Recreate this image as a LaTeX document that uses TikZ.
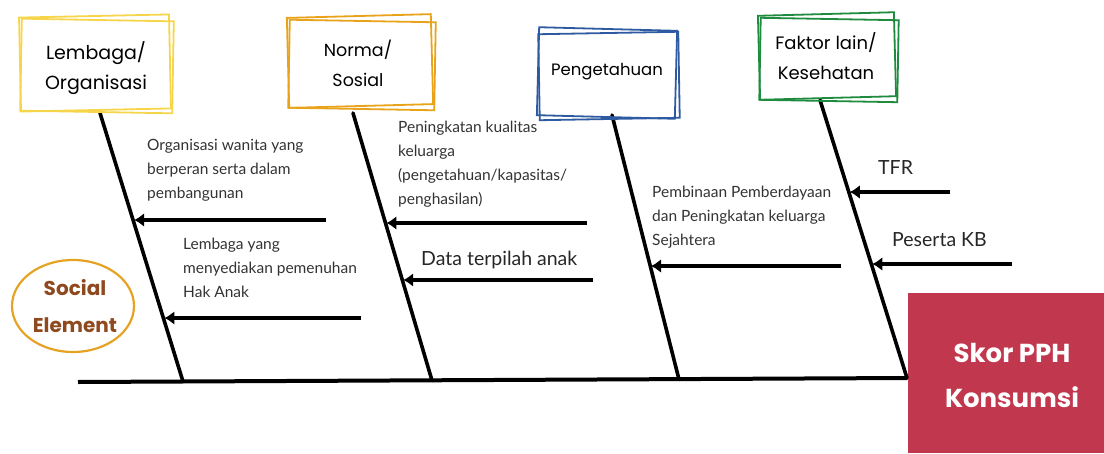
\documentclass[tikz,border=0pt]{standalone}
\usepackage{fontspec}
\setmainfont{Lato}
\newfontfamily\hdrfont{Poppins}
\usetikzlibrary{arrows.meta,calc,shapes.geometric}

\definecolor{yel}{HTML}{F7D54A}
\definecolor{orn}{HTML}{E8A31A}
\definecolor{blu}{HTML}{2D5AA0}
\definecolor{grn}{HTML}{1F8B3E}
\definecolor{ring}{HTML}{E6A222}
\definecolor{brown}{HTML}{8E4A1E}
\definecolor{scorered}{HTML}{C1374D}

\tikzset{
  bone/.style={line width=3.6pt, line cap=round},
  arr/.style={line width=3.4pt, -{Latex[length=10pt,width=14pt]}, shorten >=1pt},
  frame/.style={draw=#1, line width=1.8pt, inner sep=0pt},
  hdr/.style={font=\hdrfont\fontsize{#1}{30}\selectfont, align=center, inner sep=0pt},
  cause/.style={font=\fontsize{15.5}{24}\selectfont, align=left, anchor=north west, inner sep=0pt, text=black!80},
  bigcause/.style={font=\fontsize{19.5}{22}\selectfont, anchor=west, inner sep=0pt, text=black!85},
}

\begin{document}
\begin{tikzpicture}[x=1pt, y=-1pt]
\useasboundingbox (0,0) rectangle (1104,453);

% head of the fish
\node[fill=scorered, minimum width=196pt, minimum height=160pt, anchor=north west, inner sep=0pt] (head) at (908,293) {};
\node[font=\hdrfont\bfseries\fontsize{26}{45}\selectfont, text=white, align=center] (headtxt) at (1012,375) {Skor PPH\\ Konsumsi};

% spine and bones
\coordinate (s0) at (78,382);
\coordinate (t1) at (100,113); \coordinate (b1) at (183,381.5);
\coordinate (t2) at (353,113); \coordinate (b2) at (432,380.5);
\coordinate (t3) at (612,115); \coordinate (b3) at (679,379.5);
\coordinate (t4) at (820,100); \coordinate (b4) at (907,378);
\draw[line width=4pt] (s0) -- (b4);
\foreach \i in {1,...,4} \draw[bone] (t\i) -- (b\i);

% category boxes
\node[frame=yel, minimum width=150pt, minimum height=94pt, rotate=1.2] (lemA) at (95,63) {};
\node[frame=yel, minimum width=152pt, minimum height=92pt, rotate=-1] (lemB) at (97,66) {};
\node[hdr=19] (lem) at (96,68) {Lembaga/\\Organisasi};

\node[frame=orn, minimum width=144pt, minimum height=90pt, rotate=1.5] (norA) at (360,61) {};
\node[frame=orn, minimum width=146pt, minimum height=88pt, rotate=-1] (norB) at (362,65) {};
\node[hdr=17.5] (nor) at (358,63) {Norma/\\Sosial};

\node[frame=blu, minimum width=138pt, minimum height=88pt, rotate=-1.5] (penA) at (607,73) {};
\node[frame=blu, minimum width=140pt, minimum height=86pt, rotate=1] (penB) at (609,76) {};
\node[hdr=16.5] (pen) at (607,72) {Pengetahuan};

\node[frame=grn, minimum width=136pt, minimum height=84pt, rotate=1.5] (fakA) at (827,56) {};
\node[frame=grn, minimum width=138pt, minimum height=82pt, rotate=-1] (fakB) at (829,60) {};
\node[hdr=18] (fak) at (826,56) {Faktor lain/\\Kesehatan};

% social element badge
\node[draw=ring, line width=2.2pt, ellipse, minimum width=122pt, minimum height=92pt, inner sep=0pt] (soc) at (73,306) {};
\node[font=\hdrfont\bfseries\fontsize{20}{37}\selectfont, text=brown, align=center] (soctxt) at (75,306) {Social\\Element};

% causes and their arrows
\coordinate (a1) at (326,220);
\coordinate (a2) at (361,318);
\coordinate (a3) at (587,223);
\coordinate (a4) at (593,280);
\coordinate (a5) at (841,266);
\coordinate (a6) at (950,192);
\coordinate (a7) at (1012,264);
\coordinate (p1) at ($(t1)!0.3993!(b1)$);
\coordinate (p2) at ($(t1)!0.7649!(b1)$);
\coordinate (p3) at ($(t2)!0.4104!(b2)$);
\coordinate (p4) at ($(t2)!0.6231!(b2)$);
\coordinate (p5) at ($(t3)!0.5677!(b3)$);
\coordinate (p6) at ($(t4)!0.3309!(b4)$);
\coordinate (p7) at ($(t4)!0.5899!(b4)$);
\foreach \i in {1,...,7} \draw[arr] (a\i) -- (a\i -| p\i);

\node[cause] (c1) at (147,139) {Organisasi wanita yang\\berperan serta dalam\\pembangunan};
\node[cause] (c2) at (183,238) {Lembaga yang\\menyediakan pemenuhan\\Hak Anak};
\node[cause] (c3) at (398,121) {Peningkatan kualitas\\keluarga\\(pengetahuan/kapasitas/\\penghasilan)};
\node[bigcause] (c4) at (421,260) {Data terpilah anak};
\node[cause] (c5) at (652,186) {Pembinaan Pemberdayaan\\dan Peningkatan keluarga\\Sejahtera};
\node[bigcause] (c6) at (878,168) {TFR};
\node[bigcause] (c7) at (892,240) {Peserta KB};
\end{tikzpicture}
\end{document}
